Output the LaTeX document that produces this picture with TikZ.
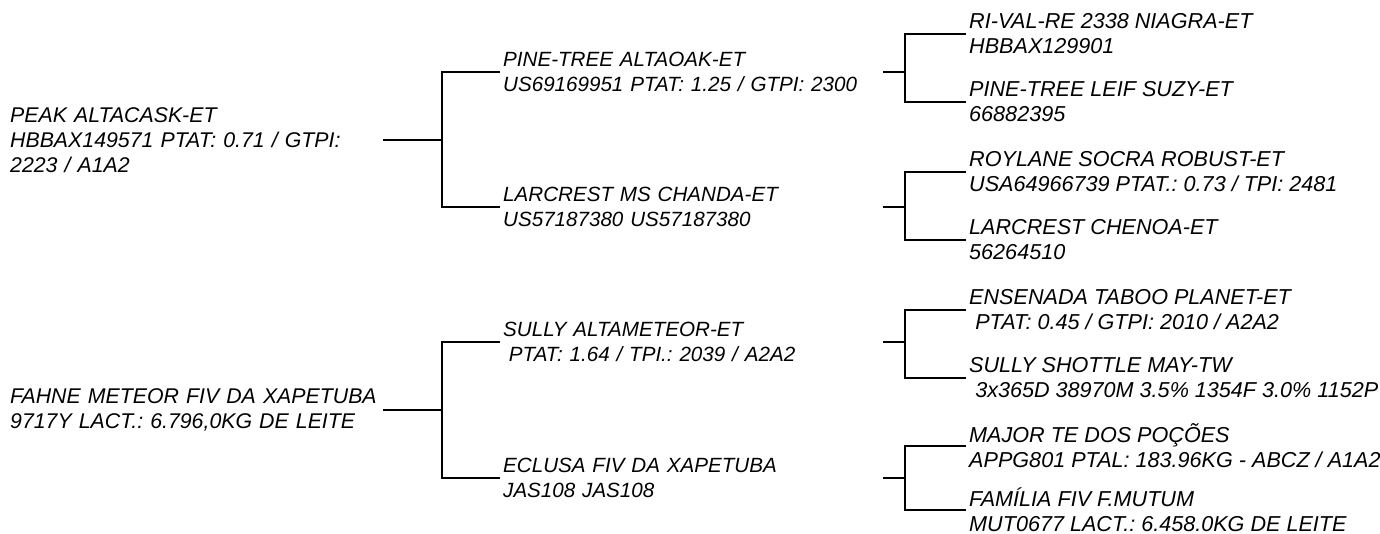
\documentclass[tikz,border=0pt]{standalone}
\usepackage{fontspec}
\setmainfont{Liberation Sans}
\usepackage{tikz}
\usetikzlibrary{positioning,calc}
\newcommand{\pedfont}[1]{\fontsize{#1}{25}\selectfont\itshape\frenchspacing}
\newcommand{\padsp}{\hspace*{0.28em}}

\begin{document}
\begin{tikzpicture}[
    x=1pt, y=-1pt,
    every node/.style={align=left, inner sep=3pt, anchor=west},
    gen1/.style={font=\pedfont{21.3}, text width=370pt},
    gen2/.style={font=\pedfont{20.6}, text width=377pt},
    gen3/.style={font=\pedfont{21.6}},
    link/.style={line width=2pt}
]
\useasboundingbox (0,0) rectangle (1380,534);

    % first generation
    \node (peak) [gen1] at (7,140) {PEAK ALTACASK-ET\\HBBAX149571 PTAT: 0.71 / GTPI:\\2223 / A1A2};
    \node (fahne) [gen1] at (7,410) {FAHNE METEOR FIV DA XAPETUBA\\9717Y LACT.: 6.796,0KG DE LEITE};

    % second generation
    \node (altaoak) [gen2] at (500,72) {PINE-TREE ALTAOAK-ET\\US69169951 PTAT: 1.25 / GTPI: 2300};
    \node (chanda) [gen2] at (500,207) {LARCREST MS CHANDA-ET\\US57187380 US57187380};
    \node (altameteor) [gen2] at (500,342) {SULLY ALTAMETEOR-ET\\\padsp PTAT: 1.64 / TPI.: 2039 / A2A2};
    \node (eclusa) [gen2] at (500,478) {ECLUSA FIV DA XAPETUBA\\JAS108 JAS108};

    % third generation
    \node (niagra) [gen3] at (966,34) {RI-VAL-RE 2338 NIAGRA-ET\\HBBAX129901};
    \node (suzy) [gen3] at (966,102) {PINE-TREE LEIF SUZY-ET\\66882395};
    \node (robust) [gen3] at (966,172) {ROYLANE SOCRA ROBUST-ET\\USA64966739 PTAT.: 0.73 / TPI: 2481};
    \node (chenoa) [gen3] at (966,240) {LARCREST CHENOA-ET\\56264510};
    \node (taboo) [gen3] at (966,310) {ENSENADA TABOO PLANET-ET\\\padsp PTAT: 0.45 / GTPI: 2010 / A2A2};
    \node (shottle) [gen3] at (966,378) {SULLY SHOTTLE MAY-TW\\\padsp 3x365D 38970M 3.5\% 1354F 3.0\% 1152P};
    \node (pocoes) [gen3] at (966,446) {MAJOR TE DOS POÇÕES\\APPG801 PTAL: 183.96KG - ABCZ / A1A2};
    \node (mutum) [gen3] at (966,510) {FAMÍLIA FIV F.MUTUM\\MUT0677 LACT.: 6.458.0KG DE LEITE};

    % forks
    \coordinate (jpeak) at ($(peak.east)+(59,0)$);
    \coordinate (jfahne) at ($(fahne.east)+(59,0)$);
    \coordinate (jaltaoak) at ($(altaoak.east)+(22,0)$);
    \coordinate (jchanda) at ($(chanda.east)+(22,0)$);
    \coordinate (jaltameteor) at ($(altameteor.east)+(22,0)$);
    \coordinate (jeclusa) at ($(eclusa.east)+(22,0)$);

    \draw[link] (peak.east) -- (jpeak);
    \draw[link] (altaoak.west) -| (jpeak) |- (chanda.west);
    \draw[link] (fahne.east) -- (jfahne);
    \draw[link] (altameteor.west) -| (jfahne) |- (eclusa.west);

    \draw[link] (altaoak.east) -- (jaltaoak);
    \draw[link] (niagra.west) -| (jaltaoak) |- (suzy.west);
    \draw[link] (chanda.east) -- (jchanda);
    \draw[link] (robust.west) -| (jchanda) |- (chenoa.west);
    \draw[link] (altameteor.east) -- (jaltameteor);
    \draw[link] (taboo.west) -| (jaltameteor) |- (shottle.west);
    \draw[link] (eclusa.east) -- (jeclusa);
    \draw[link] (pocoes.west) -| (jeclusa) |- (mutum.west);

\end{tikzpicture}
\end{document}
